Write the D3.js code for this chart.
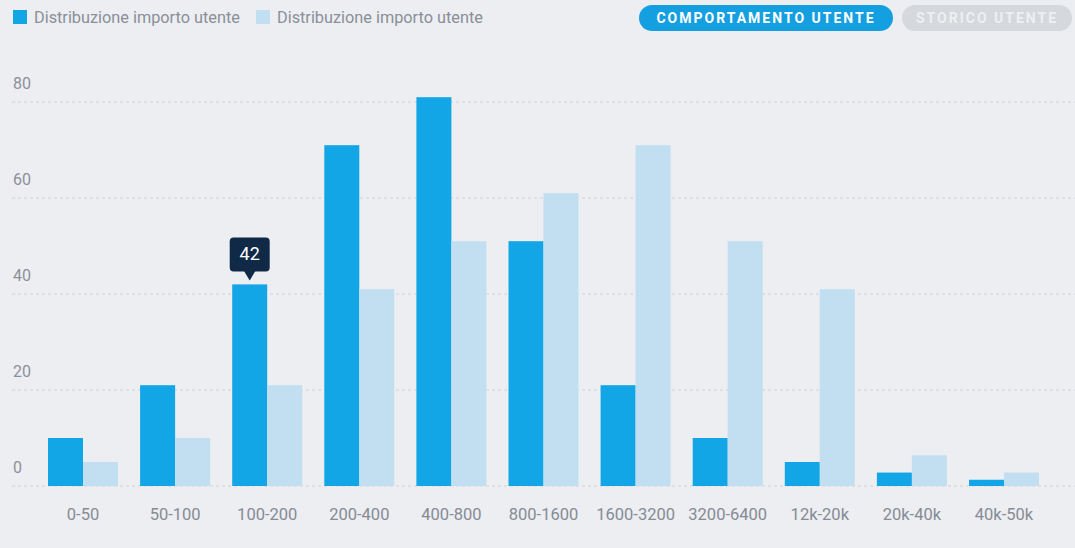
<!DOCTYPE html>
<html>
<head>
<meta charset="utf-8">
<script src="https://cdn.jsdelivr.net/npm/d3@7"></script>
<style>
  html, body { margin: 0; padding: 0; background: #eceef2; }
  svg { display: block; font-family: Roboto, "Noto Sans", sans-serif; }
</style>
</head>
<body>
<svg id="chart" width="1075" height="548"></svg>
<script>
// Amount ranges (x categories)
const categories = ["0-50", "50-100", "100-200", "200-400", "400-800", "800-1600",
                    "1600-3200", "3200-6400", "12k-20k", "20k-40k", "40k-50k"];
// Two distributions of user amounts
const seriesA = [10, 21, 42, 71, 81, 51, 21, 10, 5, 2.8, 1.3];
const seriesB = [5, 10, 21, 41, 51, 61, 71, 51, 41, 6.4, 2.8];
const seriesNames = ["Distribuzione importo utente", "Distribuzione importo utente"];
const yTicks = [0, 20, 40, 60, 80];
const buttons = ["COMPORTAMENTO UTENTE", "STORICO UTENTE"];
const highlighted = { series: 0, index: 2 };

const W = 1075, H = 548;
const colA = "#12a6e7", colB = "#c1dff0";
const svg = d3.select("#chart");

const x = d3.scaleBand().domain(categories).range([48, 1039]).paddingInner(0.24).paddingOuter(0);
const xs = d3.scaleBand().domain([0, 1]).range([0, x.bandwidth()]);
const y = d3.scaleLinear().domain([0, 80]).range([486, 102]);

// Gridlines and y labels
const grid = svg.append("g");
grid.selectAll("line").data(yTicks).join("line")
  .attr("x1", 12).attr("x2", W)
  .attr("y1", d => y(d)).attr("y2", d => y(d))
  .attr("stroke", "#cfd2d7").attr("stroke-width", 1).attr("stroke-dasharray", "3,3");
grid.selectAll("text").data(yTicks).join("text")
  .attr("x", 13).attr("y", d => y(d) - 13)
  .attr("fill", "#8c9098").attr("font-size", 16)
  .text(d => d);

// Bars
const groups = svg.append("g").selectAll("g").data(categories).join("g")
  .attr("transform", d => `translate(${x(d)},0)`);
groups.append("rect")
  .attr("x", xs(0)).attr("width", xs.bandwidth())
  .attr("y", (d, i) => y(seriesA[i])).attr("height", (d, i) => y(0) - y(seriesA[i]))
  .attr("fill", colA);
groups.append("rect")
  .attr("x", xs(1)).attr("width", xs.bandwidth())
  .attr("y", (d, i) => y(seriesB[i])).attr("height", (d, i) => y(0) - y(seriesB[i]))
  .attr("fill", colB);

// X axis labels
const xAxis = d3.axisBottom(x).tickSize(0).tickPadding(0);
const xg = svg.append("g").attr("transform", `translate(0,${y(0)})`).call(xAxis);
xg.select(".domain").remove();
xg.selectAll("text")
  .attr("y", 34).attr("dy", 0)
  .attr("fill", "#868b94").attr("font-size", 16.5)
  .attr("font-family", "Roboto, sans-serif");

// Legend
const legend = svg.append("g");
const legendX = [13, 256];
[colA, colB].forEach((c, i) => {
  legend.append("rect").attr("x", legendX[i]).attr("y", 10).attr("width", 14).attr("height", 14).attr("fill", c);
  legend.append("text").attr("x", legendX[i] + 21).attr("y", 23)
    .attr("fill", "#8a8f98").attr("font-size", 16.3).text(seriesNames[i]);
});

// Toggle buttons
const btnG = svg.append("g");
const btnPos = [[639, 254], [902, 170]];
const btnFill = ["#149fe0", "#d5d8dd"];
const btnText = ["#ffffff", "#eef0f3"];
buttons.forEach((b, i) => {
  btnG.append("rect").attr("x", btnPos[i][0]).attr("y", 5).attr("width", btnPos[i][1]).attr("height", 26)
    .attr("rx", 13).attr("fill", btnFill[i]);
  btnG.append("text").attr("x", btnPos[i][0] + btnPos[i][1] / 2).attr("y", 23)
    .attr("text-anchor", "middle").attr("fill", btnText[i])
    .attr("font-size", 14).attr("font-weight", 700).attr("letter-spacing", 2)
    .text(b);
});

// Tooltip above the highlighted bar
const hv = [seriesA, seriesB][highlighted.series][highlighted.index];
const cx = x(categories[highlighted.index]) + xs(highlighted.series) + xs.bandwidth() / 2;
const tipY = y(hv) - 4;
const tip = svg.append("g");
tip.append("rect").attr("x", cx - 20).attr("y", tipY - 43).attr("width", 40).attr("height", 34)
  .attr("rx", 4).attr("fill", "#0f2946");
tip.append("path")
  .attr("d", `M${cx - 6},${tipY - 10} L${cx},${tipY} L${cx + 6},${tipY - 10} Z`)
  .attr("fill", "#0f2946");
tip.append("text").attr("x", cx).attr("y", tipY - 20).attr("text-anchor", "middle")
  .attr("fill", "#ffffff").attr("font-size", 18).text(hv);
</script>
</body>
</html>
